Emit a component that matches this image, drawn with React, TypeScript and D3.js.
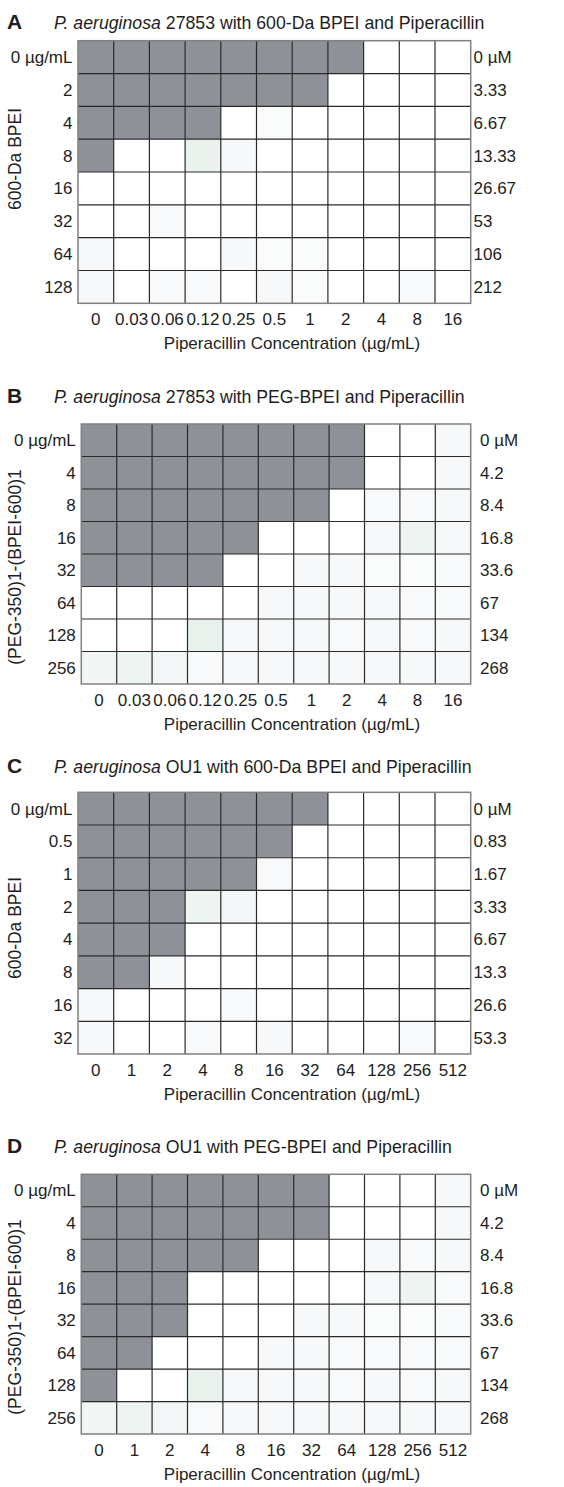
import React from "react";
import * as d3 from "d3";

// piperacillin columns (µg/mL)
const pipLow = ["0", "0.03", "0.06", "0.12", "0.25", "0.5", "1", "2", "4", "8", "16"];
const pipHigh = ["0", "1", "2", "4", "8", "16", "32", "64", "128", "256", "512"];

// BPEI rows (µg/mL on the left, µM on the right)
const rowsA = ["0 µg/mL", "2", "4", "8", "16", "32", "64", "128"];
const molA = ["0 µM", "3.33", "6.67", "13.33", "26.67", "53", "106", "212"];
const rowsB = ["0 µg/mL", "4", "8", "16", "32", "64", "128", "256"];
const molB = ["0 µM", "4.2", "8.4", "16.8", "33.6", "67", "134", "268"];
const rowsC = ["0 µg/mL", "0.5", "1", "2", "4", "8", "16", "32"];
const molC = ["0 µM", "0.83", "1.67", "3.33", "6.67", "13.3", "26.6", "53.3"];
const rowsD = ["0 µg/mL", "4", "8", "16", "32", "64", "128", "256"];
const molD = ["0 µM", "4.2", "8.4", "16.8", "33.6", "67", "134", "268"];

const letters = ["A", "B", "C", "D"];
const strains = ["27853", "27853", "OU1", "OU1"];
const agents = ["600-Da BPEI", "PEG-BPEI", "600-Da BPEI", "PEG-BPEI"];
const yTitles = ["600-Da BPEI", "(PEG-350)1-(BPEI-600)1", "600-Da BPEI", "(PEG-350)1-(BPEI-600)1"];
const xTitle = "Piperacillin Concentration (µg/mL)";

// growth read from the plates: 1 = turbid well, small values = faint tint
const growthA = [
  [1, 1, 1, 1, 1, 1, 1, 1, 0, 0, 0],
  [1, 1, 1, 1, 1, 1, 1, 0, 0, 0, 0],
  [1, 1, 1, 1, 0, 0.03, 0, 0, 0, 0, 0],
  [1, 0, 0, 0.12, 0.05, 0, 0, 0, 0, 0, 0],
  [0, 0, 0, 0, 0, 0, 0, 0, 0, 0, 0],
  [0, 0, 0.04, 0, 0, 0, 0, 0, 0, 0, 0],
  [0.05, 0, 0, 0, 0.05, 0.03, 0.03, 0, 0, 0, 0],
  [0.05, 0, 0.04, 0.04, 0, 0.05, 0.03, 0, 0, 0.04, 0],
];
const growthB = [
  [1, 1, 1, 1, 1, 1, 1, 1, 0, 0, 0.05],
  [1, 1, 1, 1, 1, 1, 1, 1, 0, 0, 0.05],
  [1, 1, 1, 1, 1, 1, 1, 0, 0.04, 0.04, 0.05],
  [1, 1, 1, 1, 1, 0, 0, 0, 0.05, 0.1, 0.05],
  [1, 1, 1, 1, 0, 0, 0.05, 0.05, 0.03, 0.03, 0.04],
  [0, 0, 0, 0, 0, 0.05, 0.05, 0.05, 0.05, 0.04, 0.04],
  [0, 0, 0, 0.14, 0.05, 0.05, 0.05, 0.04, 0.05, 0.04, 0.05],
  [0.08, 0.1, 0.06, 0.04, 0.05, 0.05, 0.05, 0.05, 0.05, 0.05, 0.05],
];
const growthC = [
  [1, 1, 1, 1, 1, 1, 1, 0, 0, 0, 0],
  [1, 1, 1, 1, 1, 1, 0, 0, 0, 0, 0],
  [1, 1, 1, 1, 1, 0.04, 0, 0, 0, 0, 0],
  [1, 1, 1, 0.1, 0.06, 0, 0, 0, 0, 0, 0],
  [1, 1, 1, 0, 0, 0, 0, 0, 0, 0, 0],
  [1, 1, 0.05, 0, 0, 0, 0, 0, 0, 0, 0],
  [0.05, 0, 0, 0, 0.04, 0, 0, 0, 0, 0, 0],
  [0.05, 0, 0, 0.04, 0, 0.05, 0, 0, 0, 0.04, 0],
];
const growthD = [
  [1, 1, 1, 1, 1, 1, 1, 0, 0, 0, 0.05],
  [1, 1, 1, 1, 1, 1, 1, 0, 0, 0, 0.05],
  [1, 1, 1, 1, 1, 0, 0, 0, 0.05, 0.04, 0.05],
  [1, 1, 1, 0, 0, 0, 0, 0, 0.05, 0.1, 0.04],
  [1, 1, 1, 0, 0, 0, 0.05, 0.05, 0.03, 0.03, 0.04],
  [1, 1, 0, 0, 0, 0.05, 0.05, 0.04, 0.04, 0.04, 0.04],
  [1, 0, 0, 0.14, 0.05, 0.05, 0.05, 0.04, 0.05, 0.04, 0.05],
  [0.08, 0.1, 0.06, 0.04, 0.05, 0.05, 0.05, 0.05, 0.05, 0.05, 0.05],
];

const panelData = [
  { cols: pipLow, rows: rowsA, mol: molA, growth: growthA },
  { cols: pipLow, rows: rowsB, mol: molB, growth: growthB },
  { cols: pipHigh, rows: rowsC, mol: molC, growth: growthC },
  { cols: pipHigh, rows: rowsD, mol: molD, growth: growthD },
];

// page layout of each plate
const layout = [
  { top: 40.7, bottom: 303.3, x0: 78, titleY: 28.5, yMid: 159, rightX: 473.5 },
  { top: 424, bottom: 684, x0: 81.3, titleY: 403, yMid: 567, rightX: 480 },
  { top: 792.3, bottom: 1054, x0: 78, titleY: 773, yMid: 928, rightX: 473.5 },
  { top: 1174.3, bottom: 1434, x0: 81.3, titleY: 1153, yMid: 1317, rightX: 480 },
];

const W = 564;
const H = 1487;
const X1 = 470.7;
const FONT = "'Liberation Sans', Arial, Helvetica, sans-serif";
const GRAY = "#8f9198";
const tint = d3
  .scaleLinear<string>()
  .domain([0, 0.05, 0.15])
  .range(["#ffffff", "#f6f8f9", "#e6f0e9"])
  .clamp(true);
const fillOf = (v: number) => (v >= 0.5 ? GRAY : tint(v));

const Plate = ({ i }: { i: number }) => {
  const d = panelData[i];
  const L = layout[i];
  const x = d3.scaleBand<number>().domain(d3.range(d.cols.length)).range([L.x0, X1]);
  const y = d3.scaleBand<number>().domain(d3.range(d.rows.length)).range([L.top, L.bottom]);
  const bw = x.bandwidth();
  const bh = y.bandwidth();

  return (
    <g fontFamily={FONT} fill="#1e1e1e">
      <text x={7} y={L.titleY} fontSize={21} fontWeight="bold">
        {letters[i]}
      </text>
      <text x={54} y={L.titleY} fontSize={17.7}>
        <tspan fontStyle="italic">P. aeruginosa</tspan>
        {` ${strains[i]} with ${agents[i]} and Piperacillin`}
      </text>

      {d.growth.map((row, r) =>
        row.map((v, c) => (
          <rect key={`${r}-${c}`} x={x(c)} y={y(r)} width={bw} height={bh} fill={fillOf(v)} />
        ))
      )}
      {d3.range(1, d.cols.length).map((c) => (
        <line key={`v${c}`} x1={x(c)} x2={x(c)} y1={L.top} y2={L.bottom} stroke="#2a2a2a" strokeWidth={1.2} />
      ))}
      {d3.range(1, d.rows.length).map((r) => (
        <line key={`h${r}`} x1={L.x0} x2={X1} y1={y(r)} y2={y(r)} stroke="#2a2a2a" strokeWidth={1.2} />
      ))}
      <rect x={L.x0} y={L.top} width={X1 - L.x0} height={L.bottom - L.top} fill="none" stroke="#808080" strokeWidth={1.5} />

      {d.rows.map((t, r) => (
        <text key={`rl${r}`} x={L.x0 - 5.5} y={(y(r) as number) + bh / 2} dy="0.35em" textAnchor="end" fontSize={17}>
          {t}
        </text>
      ))}
      {d.mol.map((t, r) => (
        <text key={`rr${r}`} x={L.rightX} y={(y(r) as number) + bh / 2} dy="0.35em" fontSize={17}>
          {t}
        </text>
      ))}
      {d.cols.map((t, c) => (
        <text key={`cl${c}`} x={(x(c) as number) + bw / 2} y={L.bottom + 22} textAnchor="middle" fontSize={17}>
          {t}
        </text>
      ))}
      <text x={292} y={L.bottom + 46} textAnchor="middle" fontSize={17}>
        {xTitle}
      </text>
      <text transform={`translate(${21},${L.yMid}) rotate(-90)`} textAnchor="middle" fontSize={17.5}>
        {yTitles[i]}
      </text>
    </g>
  );
};

export default function App() {
  return (
    <svg
      width={W}
      height={H}
      viewBox={`0 0 ${W} ${H}`}
      style={{ position: "absolute", left: 0, top: 0, background: "#fff" }}
    >
      <rect width={W} height={H} fill="#fff" />
      {letters.map((_, i) => (
        <Plate key={i} i={i} />
      ))}
    </svg>
  );
}
